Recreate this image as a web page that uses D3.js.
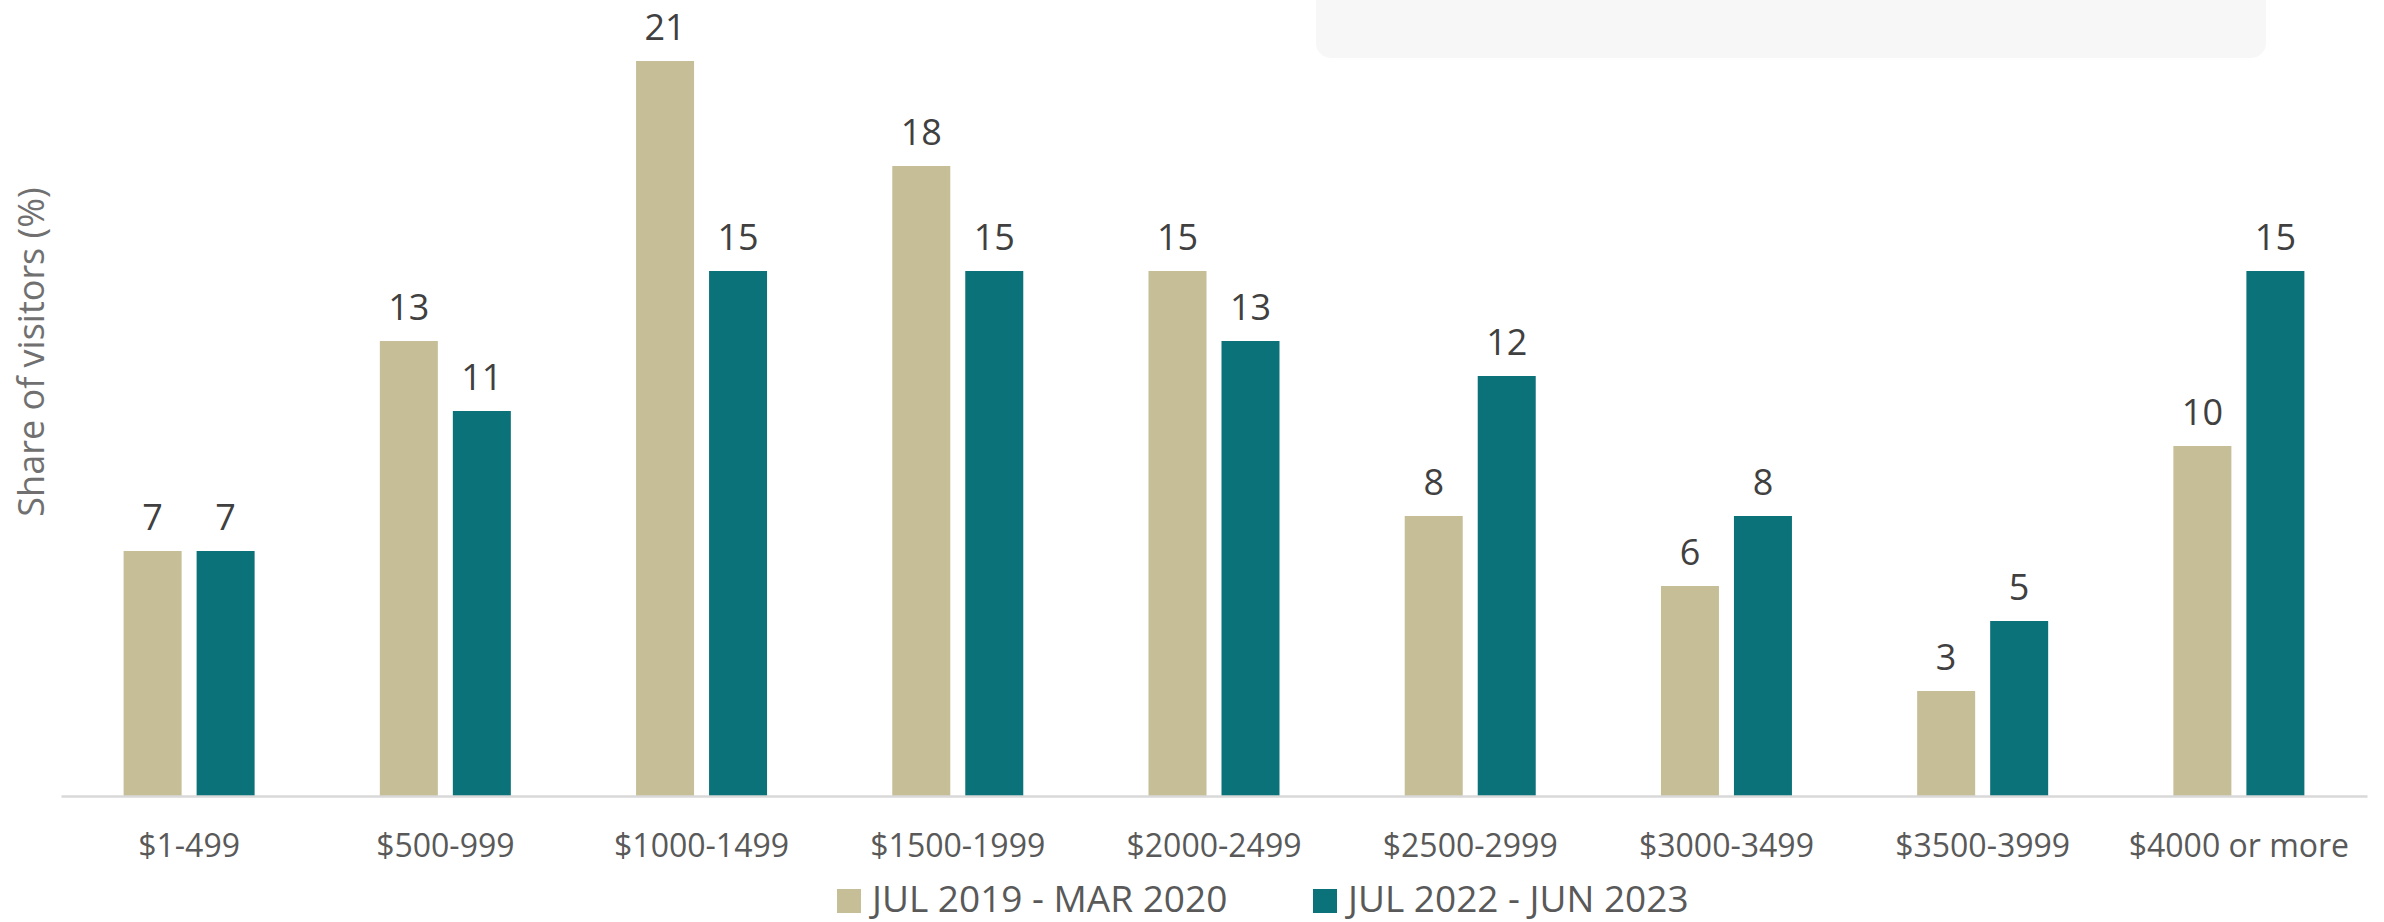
<!DOCTYPE html>
<html>
<head>
<meta charset="utf-8">
<script src="https://cdn.jsdelivr.net/npm/d3@7"></script>
<style>
  html, body { margin: 0; padding: 0; background: #ffffff; }
  svg { display: block; }
</style>
</head>
<body>
<svg id="chart" width="2384" height="922"></svg>
<script>
const categories = ["$1-499", "$500-999", "$1000-1499", "$1500-1999", "$2000-2499", "$2500-2999", "$3000-3499", "$3500-3999", "$4000 or more"];
const seriesNames = ["JUL 2019 - MAR 2020", "JUL 2022 - JUN 2023"];
const series2019 = [7, 13, 21, 18, 15, 8, 6, 3, 10];
const series2022 = [7, 11, 15, 15, 13, 12, 8, 5, 15];
const colors = ["#c5be97", "#0b727a"];
const yTitle = "Share of visitors (%)";

const seriesValues = [series2019, series2022];
const svg = d3.select("#chart");
const baseY = 796;

// decorative rounded panel at top
svg.append("rect")
  .attr("x", 1316).attr("y", -20).attr("width", 950).attr("height", 78)
  .attr("rx", 15).attr("ry", 15)
  .attr("fill", "#f7f7f7");

const x0 = d3.scaleBand().domain(categories).range([61, 2367]).padding(0);
const x1 = d3.scaleBand().domain(seriesNames)
  .range([x0.bandwidth() / 2 - 65.5, x0.bandwidth() / 2 + 65.5])
  .paddingInner(0.2055).paddingOuter(0);
const y = d3.scaleLinear().domain([0, 21]).range([baseY, 61]);

const data = [];
categories.forEach((c, i) => {
  seriesNames.forEach((s, j) => data.push({ c, s, j, v: seriesValues[j][i] }));
});

const g = svg.append("g");
g.selectAll("rect.bar").data(data).join("rect")
  .attr("class", "bar")
  .attr("x", d => x0(d.c) + x1(d.s))
  .attr("y", d => y(d.v))
  .attr("width", x1.bandwidth())
  .attr("height", d => y(0) - y(d.v))
  .attr("fill", d => colors[d.j]);

g.selectAll("text.val").data(data).join("text")
  .attr("class", "val")
  .attr("x", d => x0(d.c) + x1(d.s) + x1.bandwidth() / 2)
  .attr("y", d => y(d.v) - 21)
  .attr("text-anchor", "middle")
  .attr("font-family", "'Open Sans', sans-serif")
  .attr("font-size", 36)
  .attr("fill", "#404040")
  .text(d => d.v);

// x axis
const xAxis = d3.axisBottom(x0).tickSize(0).tickPadding(0);
const ax = svg.append("g").attr("transform", `translate(0,${baseY})`).call(xAxis);
ax.select(".domain").attr("stroke", "#d9d9d9").attr("stroke-width", 2.5);
ax.selectAll(".tick text")
  .attr("dy", null)
  .attr("y", 61)
  .attr("font-family", "'Open Sans', sans-serif")
  .attr("font-size", 32)
  .attr("fill", "#595959");

// y title
svg.append("text")
  .attr("transform", "translate(44,352) rotate(-90)")
  .attr("text-anchor", "middle")
  .attr("font-family", "'Open Sans', sans-serif")
  .attr("font-size", 36)
  .attr("fill", "#707070")
  .text(yTitle);

// legend
const legendX = [837, 1313];
const lg = svg.append("g");
seriesNames.forEach((s, j) => {
  lg.append("rect")
    .attr("x", legendX[j]).attr("y", 889).attr("width", 24).attr("height", 24)
    .attr("fill", colors[j]);
  lg.append("text")
    .attr("x", legendX[j] + 35).attr("y", 912)
    .attr("font-family", "'Open Sans', sans-serif")
    .attr("font-size", 37)
    .attr("fill", "#595959")
    .text(s);
});
</script>
</body>
</html>
